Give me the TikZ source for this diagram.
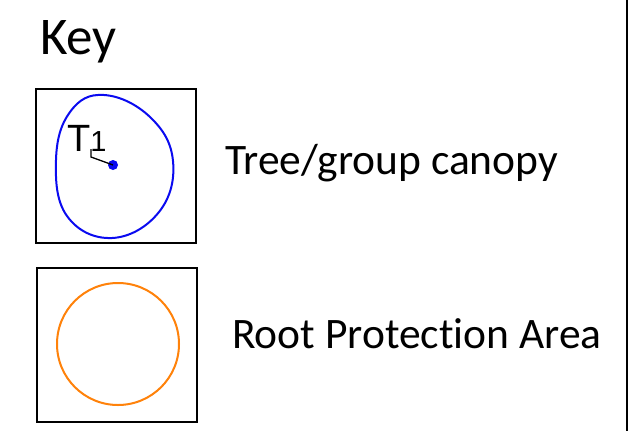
\documentclass[tikz,border=0pt]{standalone}
\usepackage{fontspec}
\setmainfont{Carlito}[Ligatures=NoCommon]
\newfontfamily\labelfont{Liberation Sans}
\definecolor{canopyblue}{RGB}{10,10,240}
\definecolor{rpaorange}{RGB}{255,130,10}
\begin{document}
\begin{tikzpicture}[x=1pt,y=-1pt,
  keybox/.style={draw=black,line width=1.4pt},
  keytext/.style={anchor=base west,inner sep=0pt,font=\fontsize{43.5}{48}\selectfont},
  canopy/.style={draw=canopyblue,line width=2pt},
  rpa/.style={draw=rpaorange,line width=2pt}]
\useasboundingbox (0,0) rectangle (631,431);
\fill[white] (0,0) rectangle (631,431);
% right-hand frame edge
\draw[line width=1.4pt] (627,0) -- (627,431);

% heading
\node[anchor=base west,inner sep=0pt,font=\fontsize{53}{58}\selectfont] (key) at (40,54) {Key};

% canopy sample
\node[keybox,minimum width=160pt,minimum height=154pt,inner sep=0pt] (box1) at (116,166) {};
\draw[canopy] plot[smooth cycle,tension=0.7] coordinates
  {(104,95) (150,117) (173,161) (159,212) (112,238) (67,216) (56,160) (70,112)};
\node[circle,fill=canopyblue,inner sep=0pt,minimum size=10pt] (dot) at (113,165) {};
\node[anchor=base west,inner sep=0pt,font=\labelfont\fontsize{38}{40}\selectfont] (tlabel) at (67,151) {T\fontsize{29}{30}\selectfont 1};
\coordinate (tl) at (91,149);
\draw[line width=1.3pt] (tl) -- ++(0,8) -- (dot.center);
\node[keytext] (canopytext) at (225,174) {Tree/group canopy};

% root protection area sample
\node[keybox,minimum width=160pt,minimum height=154pt,inner sep=0pt] (box2) at (117,345) {};
\draw[rpa] (118,344) circle[radius=61];
\node[keytext] (rpatext) at (232,348) {Root Protection Area};
\end{tikzpicture}
\end{document}
